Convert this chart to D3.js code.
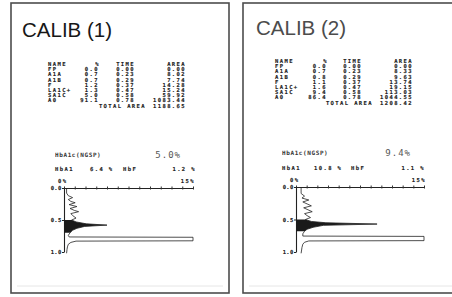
<!DOCTYPE html>
<html>
<head>
<meta charset="utf-8">
<script src="https://cdn.jsdelivr.net/npm/d3@7"></script>
<style>
  body { margin: 0; background: #fff; }
  svg { display: block; }
  text { opacity: 0.99; }
  .mono { font-family: "DejaVu Sans Mono", monospace; font-weight: bold; font-size: 5.5px; letter-spacing: 1.4px; fill: #1c1c1c; stroke: #1c1c1c; stroke-width: 0.15px; }
  .title { font-family: "Liberation Sans", Arial, sans-serif; font-size: 20.5px; }
</style>
</head>
<body>
<script>

// peak table, same names in both runs
var names = ["FP", "A1A", "A1B", "F", "LA1C+", "SA1C", "A0"];

var pct1  = [0.0, 0.7, 0.7, 1.2, 1.3, 5.0, 91.1];
var time1 = [0.00, 0.23, 0.29, 0.37, 0.47, 0.58, 0.78];
var area1 = [0.00, 8.02, 7.74, 14.28, 15.24, 59.92, 1083.44];
var total1 = 1188.65;

var pct2  = [0.0, 0.7, 0.8, 1.1, 1.6, 9.4, 86.4];
var time2 = [0.00, 0.23, 0.29, 0.37, 0.47, 0.58, 0.78];
var area2 = [0.00, 8.33, 9.63, 13.74, 19.15, 113.03, 1044.55];
var total2 = 1208.42;

var titles = ["CALIB (1)", "CALIB (2)"];
var hba1cNgsp = [5.0, 9.4];
var hba1 = [6.4, 10.8];
var hbf = [1.2, 1.1];

// chromatogram traces: [time (min), signal (%)]
var trace1 = [[0.00,0.3],[0.08,0.3],[0.12,0.5],[0.15,1.0],[0.18,0.5],[0.21,0.8],[0.23,1.3],[0.26,0.6],
  [0.29,1.5],[0.32,0.7],[0.35,1.2],[0.37,1.7],[0.40,0.8],[0.43,1.0],[0.47,1.4],[0.50,0.9],[0.53,1.4],
  [0.56,2.6],[0.58,5.0],[0.60,2.4],[0.63,1.5],[0.66,1.0],[0.70,0.7],[0.74,0.5],[0.765,0.6],[0.77,15],
  [0.825,15],[0.83,1.4],[0.85,0.8],[0.88,0.5],[0.92,0.4],[0.96,0.35],[1.02,0.3]];
var trace2 = [[0.00,0.6],[0.10,0.6],[0.14,1.0],[0.17,0.7],[0.20,1.5],[0.23,0.8],[0.26,1.3],[0.29,1.8],
  [0.32,0.9],[0.35,1.4],[0.38,1.9],[0.41,1.0],[0.44,1.3],[0.47,1.7],[0.50,1.1],[0.53,1.8],[0.55,3.5],
  [0.57,9.5],[0.59,3.2],[0.62,2.0],[0.65,1.3],[0.68,1.0],[0.72,0.8],[0.755,0.8],[0.76,15],[0.825,15],
  [0.83,1.5],[0.85,1.0],[0.88,0.8],[0.93,0.7],[1.02,0.6]];
var fillRange = [0.49, 0.70];   // shaded SA1C peak

var timeTicks = [0.0, 0.5, 1.0];
var signalTicks = [0, 1.25, 2.5, 3.75, 5, 6.25, 7.5, 8.75, 10, 11.25, 12.5, 13.75, 15];

var runs = [
  {pct: pct1, time: time1, area: area1, total: total1, trace: trace1},
  {pct: pct2, time: time2, area: area2, total: total2, trace: trace2}
];

// layout of each printout
var panels = [
  {box: [11, 3, 218, 290], titleX: 22, titleY: 37, titleFill: "#151515",
   tableY: 66, nameX: 48, pctX: 98, timeX: 134, areaX: 185,
   hbY: 157, hbX: 55, hbValX: 181, a1Y: 171, a1X: [55, 90, 123, 195],
   plot: {x0: 64, x1: 193, y0: 188, y1: 252}},
  {box: [243, 3, 215, 290], titleX: 256, titleY: 35, titleFill: "#4a4a4a",
   tableY: 63, nameX: 275, pctX: 326, timeX: 361, areaX: 412,
   hbY: 155, hbX: 282, hbValX: 411, a1Y: 170, a1X: [282, 314, 351, 424],
   plot: {x0: 296, x1: 424, y0: 187, y1: 252}}
];

var svg = d3.select("body").append("svg")
  .attr("width", 452)
  .attr("height", 297);

var f1 = d3.format(".1f"), f2 = d3.format(".2f");

panels.forEach(function(p, i) {
  var d = runs[i];
  var g = svg.append("g");

  // paper border
  g.append("rect")
    .attr("x", p.box[0]).attr("y", p.box[1])
    .attr("width", p.box[2]).attr("height", p.box[3])
    .attr("fill", "none").attr("stroke", "#4d4d4d").attr("stroke-width", 1.6);
  g.append("line")
    .attr("x1", p.box[0] + 6).attr("x2", p.box[0] + p.box[2] - 6)
    .attr("y1", p.box[1] + p.box[3] - 7).attr("y2", p.box[1] + p.box[3] - 7)
    .attr("stroke", "#e6e6e6").attr("stroke-width", 1);

  g.append("text").attr("class", "title")
    .attr("x", p.titleX).attr("y", p.titleY)
    .attr("fill", p.titleFill)
    .text(titles[i]);

  // result table
  var rowH = 5.2;
  var row = d3.scaleLinear().domain([0, 1]).range([p.tableY, p.tableY + rowH]);

  function mono(x, y, txt, anchor) {
    return g.append("text").attr("class", "mono")
      .attr("x", x).attr("y", y)
      .attr("text-anchor", anchor || "start")
      .text(txt);
  }

  mono(p.nameX, row(0), "NAME");
  mono(p.pctX + 2, row(0), "%", "end");
  mono(p.timeX + 1, row(0), "TIME", "end");
  mono(p.areaX + 1, row(0), "AREA", "end");

  names.forEach(function(n, k) {
    var y = row(k + 1);
    mono(p.nameX, y, n);
    mono(p.pctX + 1, y, f1(d.pct[k]), "end");
    mono(p.timeX + 1, y, f2(d.time[k]), "end");
    mono(p.areaX + 1, y, f2(d.area[k]), "end");
  });
  mono(p.areaX - 39, row(8), "TOTAL AREA", "end");
  mono(p.areaX + 1, row(8), f2(d.total), "end");

  // HbA1c summary
  mono(p.hbX, p.hbY, "HbA1c(NGSP)")
    .style("font-size", "6px").style("letter-spacing", "0.6px")
    .style("stroke", "none").style("fill", "#333");
  g.append("text").attr("class", "mono")
    .attr("x", p.hbValX).attr("y", p.hbY + 1)
    .attr("text-anchor", "end")
    .style("font-size", "9px").style("font-weight", "normal").style("letter-spacing", "1px")
    .style("fill", "#555").style("stroke", "none")
    .text(f1(hba1cNgsp[i]) + "%");

  mono(p.a1X[0], p.a1Y, "HbA1");
  mono(p.a1X[1], p.a1Y, f1(hba1[i]) + " %");
  mono(p.a1X[2], p.a1Y, "HbF");
  mono(p.a1X[3] + 1, p.a1Y, f1(hbf[i]) + " %", "end");

  // chromatogram
  var x = d3.scaleLinear().domain([0, 15]).range([p.plot.x0, p.plot.x1]);
  var y = d3.scaleLinear().domain([0, 1]).range([p.plot.y0, p.plot.y1]);

  mono(x(0) - 6, p.plot.y0 - 5, "0%");
  mono(x(15) + 2, p.plot.y0 - 5, "15%", "end");

  g.append("g")
    .attr("transform", "translate(0," + p.plot.y0 + ")")
    .call(d3.axisBottom(x).tickValues(signalTicks).tickSize(1.5).tickSizeOuter(0).tickFormat(""))
    .call(function(a) {
      a.select(".domain").attr("stroke", "#222").attr("stroke-width", 1.1);
      a.selectAll(".tick line").attr("y1", -1.5).attr("stroke", "#333");
    });

  g.append("g")
    .attr("transform", "translate(" + p.plot.x0 + ",0)")
    .call(d3.axisLeft(y).tickValues(timeTicks).tickSize(2).tickSizeOuter(0).tickFormat(f1))
    .call(function(a) {
      a.select(".domain").attr("stroke", "#222").attr("stroke-width", 1.1);
      a.selectAll(".tick line").attr("stroke", "#222");
      a.selectAll(".tick text").attr("class", "mono").attr("x", -2.5).attr("dy", "0.35em")
        .style("font-size", "5.5px").style("letter-spacing", "0.3px");
    });

  var line = d3.line()
    .x(function(e) { return x(Math.min(e[1], 15)); })
    .y(function(e) { return y(e[0]); });

  var area = d3.area()
    .x0(function() { return x(0); })
    .x1(function(e) { return x(e[1]); })
    .y(function(e) { return y(e[0]); });

  g.append("path")
    .datum(d.trace.filter(function(e) { return e[0] >= fillRange[0] && e[0] <= fillRange[1]; }))
    .attr("d", area)
    .attr("fill", "#1a1a1a");

  g.append("path")
    .datum(d.trace)
    .attr("d", line)
    .attr("fill", "none")
    .attr("stroke", "#222")
    .attr("stroke-width", 0.8);
});

</script>
</body>
</html>
